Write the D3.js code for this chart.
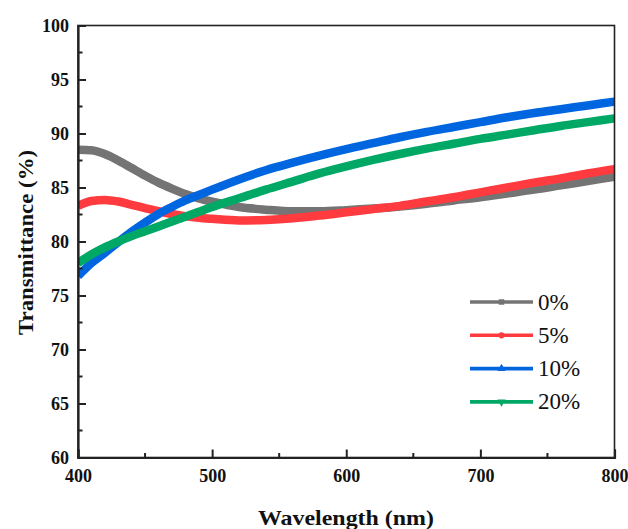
<!DOCTYPE html>
<html><head><meta charset="utf-8">
<script src="https://cdn.jsdelivr.net/npm/d3@7"></script>
<style>body{margin:0;background:#fff}svg{display:block}</style>
</head><body>
<svg id="c" width="628" height="529"></svg>
<script>
const wavelengths = [400,410,420,430,440,450,460,470,480,490,500,520,540,560,580,600,620,640,660,680,700,720,740,760,780,800];
const t0  = [88.5,88.45,88.1,87.5,86.8,86.1,85.45,84.9,84.4,84.0,83.7,83.2,82.95,82.8,82.8,82.9,83.05,83.25,83.5,83.8,84.1,84.45,84.8,85.2,85.6,86.0];
const t5  = [83.3,83.75,83.85,83.7,83.4,83.1,82.8,82.55,82.35,82.2,82.1,81.95,82.0,82.15,82.4,82.7,83.0,83.3,83.7,84.1,84.55,85.0,85.45,85.85,86.3,86.7];
const t10 = [76.8,78.0,78.95,79.95,80.9,81.75,82.55,83.2,83.8,84.3,84.8,85.75,86.6,87.3,87.95,88.55,89.1,89.65,90.15,90.6,91.05,91.5,91.9,92.25,92.6,92.95];
const t20 = [78.0,78.8,79.45,80.0,80.5,80.95,81.4,81.85,82.3,82.75,83.2,84.0,84.8,85.55,86.3,86.95,87.55,88.1,88.6,89.05,89.5,89.9,90.3,90.7,91.05,91.4];
const seriesNames = ["0%","5%","10%","20%"];
const seriesColors = ["#747474","#ff3b3f","#0066e0","#00a865"];
const seriesMarkers = ["square","circle","triangle","triangleDown"];
const xTicks = [400,500,600,700,800];
const yTicks = [60,65,70,75,80,85,90,95,100];

const svg = d3.select("#c");
const L=78, R=614.5, T=25.5, B=457.5;
const x = d3.scaleLinear().domain([400,800]).range([L,R]);
const y = d3.scaleLinear().domain([60,100]).range([B,T]);
const font = "'Liberation Serif', 'Times New Roman', serif";

const allSeries = [t0,t5,t10,t20];
svg.append("clipPath").attr("id","clip").append("rect").attr("x",L).attr("y",T).attr("width",R-L).attr("height",B-T);
const line = d3.line().x((d,i)=>x(wavelengths[i])).y(d=>y(d)).curve(d3.curveMonotoneX);
const g = svg.append("g").attr("clip-path","url(#clip)");
allSeries.forEach((s,i)=>{
  g.append("path").datum(s).attr("d",line).attr("fill","none")
   .attr("stroke",seriesColors[i]).attr("stroke-width",8.5).attr("stroke-linecap","butt");
});

// frame
svg.append("rect").attr("x",L).attr("y",T).attr("width",R-L).attr("height",B-T)
  .attr("fill","none").attr("stroke","#222").attr("stroke-width",1.6);

// axes
const xAxis = d3.axisBottom(x).tickValues(xTicks).tickSize(-8).tickPadding(12).tickFormat(d3.format("d"));
const gx = svg.append("g").attr("transform",`translate(0,${B})`).call(xAxis);
const yAxis = d3.axisLeft(y).tickValues(yTicks).tickSize(-8).tickPadding(9).tickFormat(d3.format("d"));
const gy = svg.append("g").attr("transform",`translate(${L},0)`).call(yAxis);
[gx,gy].forEach(a=>{
  a.select(".domain").attr("stroke","#222").attr("stroke-width",2.2);
  a.selectAll(".tick line").attr("stroke","#222").attr("stroke-width",2);
  a.selectAll(".tick text").attr("font-family",font).attr("font-weight","bold").attr("font-size",18).attr("fill","#111");
});
gx.selectAll(".tick text").attr("dy","0.71em");
// minor ticks
const xMinor = [450,550,650,750];
svg.append("g").selectAll("line").data(xMinor).join("line")
  .attr("x1",d=>x(d)).attr("x2",d=>x(d)).attr("y1",B).attr("y2",B-4.5).attr("stroke","#222").attr("stroke-width",2);
const yMinor = [62.5,67.5,72.5,77.5,82.5,87.5,92.5,97.5];
svg.append("g").selectAll("line").data(yMinor).join("line")
  .attr("y1",d=>y(d)).attr("y2",d=>y(d)).attr("x1",L).attr("x2",L+4.5).attr("stroke","#222").attr("stroke-width",2);

// titles
svg.append("text").attr("x",346).attr("y",525).attr("text-anchor","middle")
  .attr("textLength",176).attr("lengthAdjust","spacingAndGlyphs")
  .attr("font-family",font).attr("font-weight","bold").attr("font-size",22).attr("fill","#111").text("Wavelength (nm)");
svg.append("text").attr("transform",`translate(33,${(T+B)/2+1}) rotate(-90)`).attr("text-anchor","middle")
  .attr("textLength",185).attr("lengthAdjust","spacingAndGlyphs")
  .attr("font-family",font).attr("font-weight","bold").attr("font-size",22).attr("fill","#111").text("Transmittance (%)");

// legend
const legY = [302,335.3,368.6,401.9];
const lg = svg.append("g");
seriesNames.forEach((n,i)=>{
  const yy = legY[i];
  lg.append("line").attr("x1",470).attr("x2",533).attr("y1",yy).attr("y2",yy)
    .attr("stroke",seriesColors[i]).attr("stroke-width",3.6);
  const symType = {square:d3.symbolSquare,circle:d3.symbolCircle,triangle:d3.symbolTriangle,triangleDown:d3.symbolTriangle}[seriesMarkers[i]];
  lg.append("path").attr("d",d3.symbol().type(symType).size(30)())
    .attr("transform",`translate(501.5,${yy})`+(seriesMarkers[i]==="triangleDown"?" rotate(180)":""))
    .attr("fill",seriesColors[i]);
  lg.append("text").attr("x",538).attr("y",yy+7.5).attr("font-family",font).attr("font-size",23)
    .attr("fill","#111").text(n);
});
</script>
</body></html>
